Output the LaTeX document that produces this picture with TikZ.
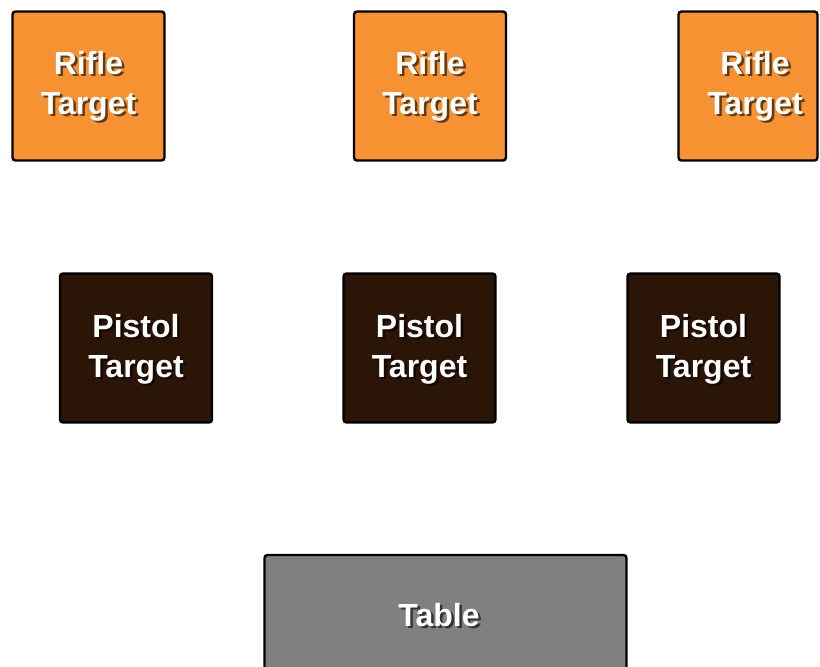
\documentclass[tikz,border=0pt]{standalone}
\usepackage{fontspec}
\setmainfont{Liberation Sans}
\definecolor{rifleorange}{RGB}{247,146,50}
\definecolor{pistolbrown}{RGB}{43,21,6}
\definecolor{tablegray}{RGB}{128,128,128}

\begin{document}
\begin{tikzpicture}[x=1pt,y=-1pt,
  target/.style={draw=black,line width=2.4pt,rounded corners=3pt,
    minimum width=152pt,minimum height=149pt,inner sep=0pt},
  rifle/.style={target,fill=rifleorange},
  pistol/.style={target,fill=pistolbrown},
  tablebox/.style={target,fill=tablegray,minimum width=362pt,minimum height=120pt},
  lbl/.style={text=white,align=center,inner sep=0pt,
    font=\fontsize{32}{40}\selectfont\bfseries},
  shade/.style={lbl,text=black,opacity=0.6}]

 \useasboundingbox (0,0) rectangle (820,667); % 画面
 \clip (0,0) rectangle (820,667);
 \fill[white] (0,0) rectangle (820,667); % 背景

 % ライフル標的
 \node[rifle] (r1) at (88.5,86) {};
 \node[rifle] (r2) at (430,86) {};
 \node[rifle,minimum width=139pt] (r3) at (748,86) {};

 % ピストル標的
 \node[pistol] (p1) at (136,348) {};
 \node[pistol] (p2) at (419.5,348) {};
 \node[pistol] (p3) at (703.5,348) {};

 % テーブル
 \node[tablebox] (tbl) at (445.5,615) {};

 % 文字 (影付き)
 \foreach \n/\x/\y/\t in {r1/88.5/86/Rifle\\Target, r2/430/86/Rifle\\Target,
   r3/755/86/Rifle\\Target, p1/136/349/Pistol\\Target, p2/419.5/349/Pistol\\Target,
   p3/703.5/349/Pistol\\Target, tbl/439/615/Table} {
  \node[shade,xshift=2.5pt,yshift=-2.5pt] (\n s) at (\x,\y) {\t};
  \node[lbl] (\n t) at (\x,\y) {\t};
 }
\end{tikzpicture}
\end{document}
